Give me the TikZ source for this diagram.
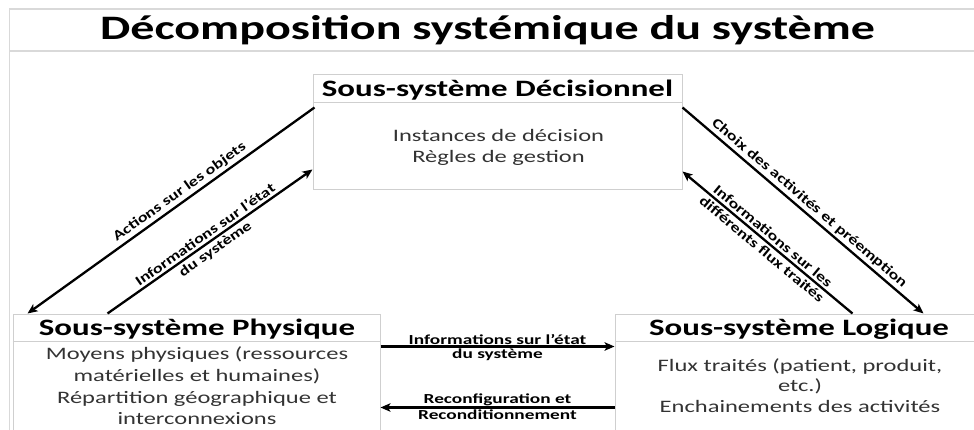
\documentclass[tikz,border=0pt]{standalone}
\usepackage{fontspec}
\setmainfont{Carlito}[FakeStretch=1.4]
\newfontfamily\slantlabelfont{Carlito}[FakeStretch=1.3]
\usetikzlibrary{arrows.meta,calc}

\definecolor{framegray}{HTML}{D9D9D9}
\definecolor{boxgray}{HTML}{CFCFCF}
\definecolor{bodytext}{HTML}{333333}

\begin{document}
\begin{tikzpicture}[x=1pt,y=-1pt,
  frameline/.style={draw=framegray,line width=1.2pt},
  boxline/.style={draw=boxgray,line width=1pt},
  sysbox/.style={boxline,rectangle,inner sep=0pt},
  titletext/.style={font=\fontsize{34.3}{40}\selectfont\bfseries,anchor=base,inner sep=0pt},
  headtext/.style={font=\fontsize{23.5}{28}\selectfont\bfseries,anchor=base,inner sep=0pt},
  bodyline/.style={font=\fontsize{17.5}{21}\selectfont,text=bodytext,anchor=base,inner sep=0pt},
  flow/.style={line width=2.3pt,-{Stealth[length=10pt,width=8.5pt,inset=2.5pt]}},
  hlab/.style={font=\fontsize{13.8}{16}\selectfont\bfseries,inner sep=1pt},
  dlab/.style={font=\fontsize{14}{16}\selectfont\slantlabelfont\bfseries,inner sep=2.5pt,sloped},
]
\useasboundingbox (0,0) rectangle (974,430);
\clip (0,0) rectangle (974,430);

% slide frame and title rule
\draw[frameline] (974,9) -- (9.5,9) -- (9.5,430);
\draw[frameline] (9.5,51) -- (974,51);
\node[titletext] (title) at (487.5,40) {Décomposition systémique du système};

% the three sub-systems
\node[sysbox, minimum width=369pt, minimum height=115pt] (dec) at (497.5,132.5) {};
\node[sysbox, minimum width=367pt, minimum height=126pt] (phys) at (196.5,377) {};
\node[sysbox, minimum width=369pt, minimum height=126pt] (logic) at (799.5,377) {};

\draw[boxline] ($(dec.north west)+(0,28)$) -- ($(dec.north east)+(0,28)$);
\draw[boxline] ($(phys.north west)+(0,28)$) -- ($(phys.north east)+(0,28)$);
\draw[boxline] ($(logic.north west)+(0,28)$) -- ($(logic.north east)+(0,28)$);

\node[headtext] (dechead) at (497.5,97) {Sous-système Décisionnel};
\node[bodyline] (decb1) at (498.5,141.5) {Instances de décision};
\node[bodyline] (decb2) at (498.5,162.5) {Règles de gestion};

\node[headtext] (physhead) at (197,335) {Sous-système Physique};
\node[bodyline] (physb1) at (197,359) {Moyens physiques (ressources};
\node[bodyline] (physb2) at (197,381) {matérielles et humaines)};
\node[bodyline] (physb3) at (197,403) {Répartition géographique et};
\node[bodyline] (physb4) at (197,424.5) {interconnexions};

\node[headtext] (loghead) at (799,335) {Sous-système Logique};
\node[bodyline] (logb1) at (800,371) {Flux traités (patient, produit,};
\node[bodyline] (logb2) at (800,391.5) {etc.)};
\node[bodyline] (logb3) at (800,412) {Enchainements des activités};

% connector end points on the box borders
\coordinate (a1) at ($(dec.north west)+(2,33)$);
\coordinate (a2) at ($(phys.north west)+(15,0)$);
\coordinate (b1) at ($(phys.north west)+(95,0)$);
\coordinate (b2) at ($(dec.north west)+(0,95)$);
\coordinate (c1) at ($(dec.north east)+(0,33)$);
\coordinate (c2) at ($(logic.north west)+(309,0)$);
\coordinate (d1) at ($(logic.north west)+(238,0)$);
\coordinate (d2) at ($(dec.north east)+(0,97)$);
\coordinate (e1) at ($(phys.north east)+(0,33)$);
\coordinate (e2) at ($(logic.north west)+(0,33)$);
\coordinate (f1) at ($(logic.north west)+(0,94)$);
\coordinate (f2) at ($(phys.north east)+(0,94)$);

% flows between the sub-systems
\draw[flow] (a1) -- node[dlab, above, pos=0.45] (lab1) {Actions sur les objets} (a2);
\draw[flow] (b1) -- node[dlab, above] (lab2a) {Informations sur l’état}
                    node[dlab, below] (lab2b) {du système} (b2);
\draw[flow] (c1) -- node[dlab, above] (lab3) {Choix des activités et préemption} (c2);
\draw[flow] (d1) -- node[dlab, above] (lab4a) {Informations sur les}
                    node[dlab, below] (lab4b) {différents flux traités} (d2);
\draw[flow] (e1) -- node[hlab, above] (lab5a) {Informations sur l’état}
                    node[hlab, below] (lab5b) {du système} (e2);
\draw[flow] (f1) -- node[hlab, above] (lab6a) {Reconfiguration et}
                    node[hlab, below] (lab6b) {Reconditionnement} (f2);
\end{tikzpicture}
\end{document}
